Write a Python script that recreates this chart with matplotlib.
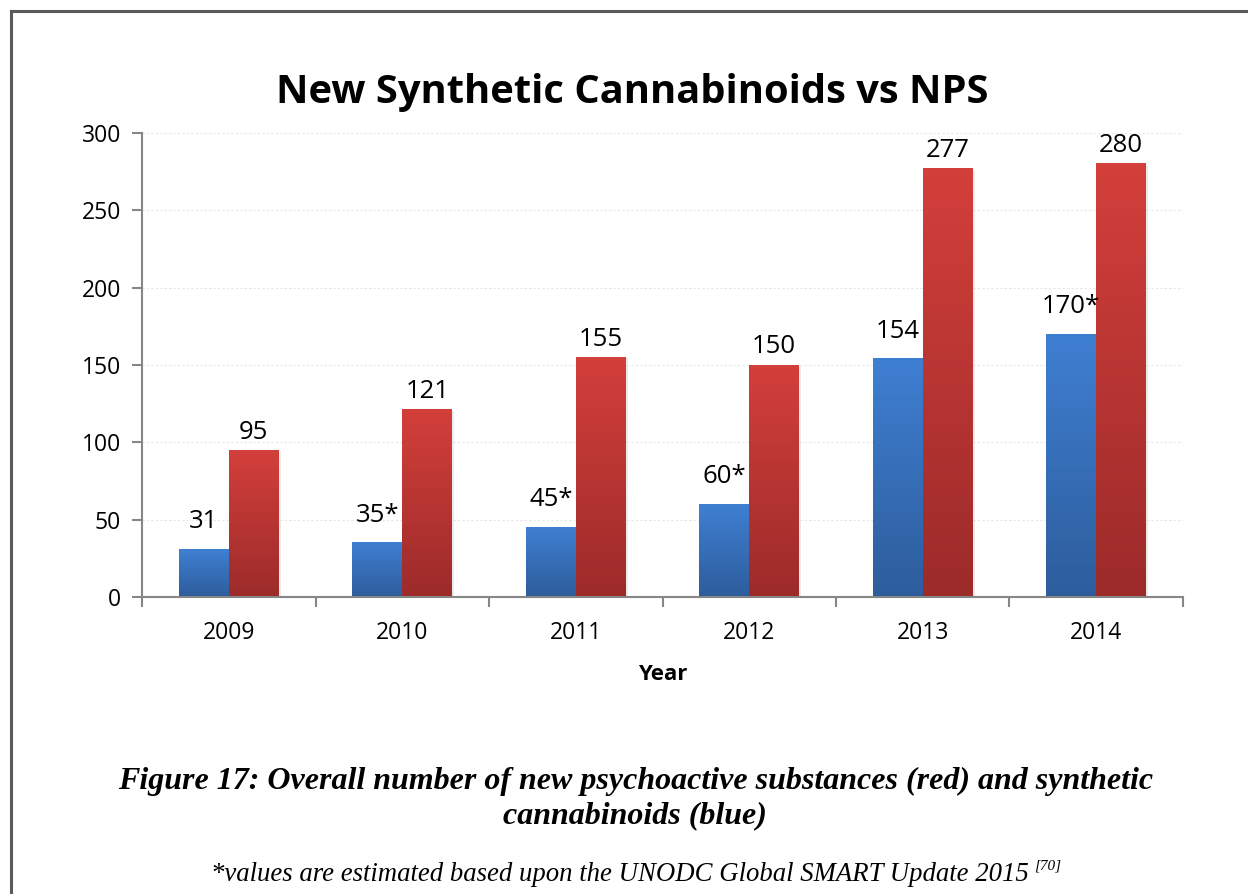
import matplotlib
matplotlib.use('Agg')
import matplotlib.pyplot as plt
from matplotlib.lines import Line2D
import numpy as np

years = ['2009', '2010', '2011', '2012', '2013', '2014']
cannabinoids = [31, 35, 45, 60, 154, 170]
cannabinoid_labels = ['31', '35*', '45*', '60*', '154', '170*']
nps = [95, 121, 155, 150, 277, 280]
nps_labels = ['95', '121', '155', '150', '277', '280']

title = 'New Synthetic Cannabinoids vs NPS'
caption = ('Figure 17: Overall number of new psychoactive substances (red) and synthetic\n'
           'cannabinoids (blue)')
footnote = '*values are estimated based upon the UNODC Global SMART Update 2015'

sans = 'Open Sans'
serif = 'Liberation Serif'
axis_grey = '#868686'

blue_top, blue_bot = '#3F7FD2', '#2D5D9C'
red_top, red_bot = '#D33F3B', '#9C2B2A'


def gradient_bar(ax, x0, width, height, top, bot):
    # vertical gradient drawn as an image inside the bar's extent
    c_top = np.array(matplotlib.colors.to_rgb(top))
    c_bot = np.array(matplotlib.colors.to_rgb(bot))
    t = np.linspace(0, 1, 128)[:, None]
    img = (c_top * (1 - t) + c_bot * t)[:, None, :]
    # light shadow to the right
    ax.bar(x0 + width * 0.04, height, width, bottom=-height * 0.004, align='edge',
           color='#d9d9d9', alpha=0.5, zorder=1, linewidth=0)
    ax.imshow(img, extent=(x0, x0 + width, 0, height), aspect='auto',
              origin='upper', zorder=2, interpolation='bicubic')


fig = plt.figure(figsize=(12.48, 8.94), dpi=100)
ax = fig.add_axes([0.1138, 0.3322, 0.8341, 0.519])

w = 0.288
x = np.arange(len(years))
for i in range(len(years)):
    gradient_bar(ax, x[i] - w, w, cannabinoids[i], blue_top, blue_bot)
    gradient_bar(ax, x[i], w, nps[i], red_top, red_bot)
    ax.annotate(cannabinoid_labels[i], (x[i] - w / 2, cannabinoids[i]),
                xytext=(0, 11), textcoords='offset points', ha='center',
                va='bottom', fontsize=18.5, family=sans)
    ax.annotate(nps_labels[i], (x[i] + w / 2, nps[i]),
                xytext=(0, 4), textcoords='offset points', ha='center',
                va='bottom', fontsize=18.5, family=sans)

ax.set_xlim(-0.5, len(years) - 0.5)
ax.set_ylim(0, 300)
ax.set_yticks(np.arange(0, 301, 50))
ax.set_xticks(x)
ax.set_xticklabels(years)
ax.set_xticks(np.arange(-0.5, len(years)), minor=True)
ax.tick_params(axis='x', which='major', length=0, pad=17, labelsize=16.5)
ax.tick_params(axis='x', which='minor', length=7, width=1.5, color=axis_grey)
ax.tick_params(axis='y', length=7, width=1.5, color=axis_grey, pad=8, labelsize=16.5)
for lab in ax.get_xticklabels() + ax.get_yticklabels():
    lab.set_family(sans)

for s in ['top', 'right']:
    ax.spines[s].set_visible(False)
for s in ['left', 'bottom']:
    ax.spines[s].set_color(axis_grey)
    ax.spines[s].set_linewidth(1.5)
ax.yaxis.grid(True, color='#e6e6e6', linestyle=(0, (2, 2)), linewidth=0.8)
ax.set_axisbelow(True)

ax.set_xlabel('Year', fontsize=16, fontweight='bold', family=sans, labelpad=14)

fig.text(0.507, 0.896, title, ha='center', va='center', fontsize=28.7,
         fontweight='bold', family=sans)
fig.text(0.509, 0.107, caption, ha='center', va='center', fontsize=23,
         fontweight='bold', style='italic', family=serif, linespacing=1.25)
fig.text(0.497, 0.022, footnote, ha='center', va='center', fontsize=19.3,
         style='italic', family=serif)
fig.text(0.829, 0.031, '[70]', ha='left', va='center', fontsize=11,
         style='italic', family=serif)

# page frame around the figure
fig.add_artist(Line2D([0.0088, 0.0088], [0, 0.988], color='#5a5a5a', lw=2.2))
fig.add_artist(Line2D([0.0088, 1], [0.988, 0.988], color='#5a5a5a', lw=2.2))

fig.savefig('out.png', dpi=100)
